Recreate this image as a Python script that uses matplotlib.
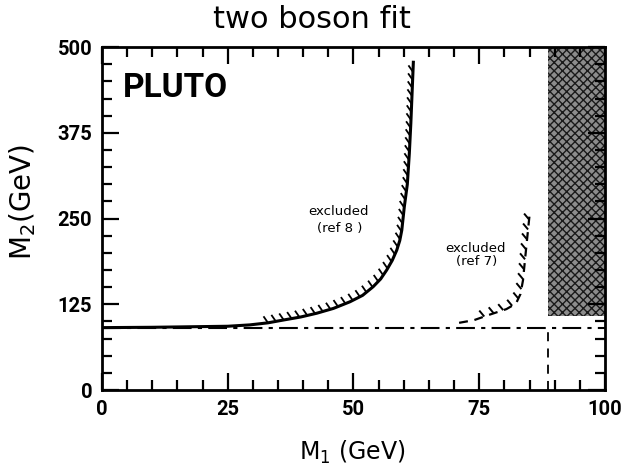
import numpy as np
import matplotlib
matplotlib.use("Agg")
import matplotlib.pyplot as plt

# Data
ref8_m1 = [0, 10, 20, 25, 29.4, 33, 36, 39.5, 42.7, 46, 49.3, 51.8, 53.9, 55.4, 56.6, 57.7,
           58.6, 59.2, 59.6, 60.1, 60.7, 61.1, 61.4, 61.9]
ref8_m2 = [91, 91.5, 92.5, 93, 95, 98, 102, 106.5, 112, 119, 128.7, 138, 150.6, 162, 175, 189,
           204, 218, 233, 267, 300, 345, 389, 478]
ref7_m1 = [71, 74, 77.1, 80.4, 82.3, 83.2, 83.7, 84.1, 84.5, 85.1]
ref7_m2 = [98, 102, 110, 118, 126, 140, 160, 190, 219, 262]
mz_line = 90
shade_x = [88.7, 100]
shade_y = [108, 500]
xticks = [0, 25, 50, 75, 100]
yticks = [0, 125, 250, 375, 500]

NARROW = ['Roboto', 'DejaVu Sans']

fig = plt.figure(figsize=(6.24, 4.69), dpi=100)
ax = fig.add_axes([0.1635, 0.1684, 0.806, 0.731])
ax.set_xlim(0, 100)
ax.set_ylim(0, 500)

# shaded excluded band
ax.fill_between(shade_x, shade_y[0], shade_y[1], facecolor='#8c8c8c',
                hatch='xxxx', edgecolor='#1a1a1a', linewidth=0)

# horizontal dash-dot line and vertical dashed line
ax.plot([0, 100], [mz_line, mz_line], color='black', lw=1.5, ls=(0, (9, 3, 2, 3)))
ax.plot([shade_x[0], shade_x[0]], [0, mz_line], color='black', lw=1.3, ls=(0, (5, 4)))

# curves
ax.plot(ref8_m1, ref8_m2, color='black', lw=2.2, solid_joinstyle='round')
ax.plot(ref7_m1, ref7_m2, color='black', lw=1.6, ls=(0, (4, 3)))

fig.canvas.draw()

def hatch(xs, ys, start_x, spacing=8.0, dx=-4.0, dy=6.0, lw=1.3):
    pts = ax.transData.transform(np.column_stack([xs, ys]))
    seg = np.hypot(np.diff(pts[:, 0]), np.diff(pts[:, 1]))
    s = np.concatenate([[0], np.cumsum(seg)])
    s0 = np.interp(start_x, xs, s)
    for si in np.arange(s0, s[-1] - 3, spacing):
        px = np.interp(si, s, pts[:, 0])
        py = np.interp(si, s, pts[:, 1])
        p = ax.transData.inverted().transform([[px, py], [px + dx, py + dy]])
        ax.plot(p[:, 0], p[:, 1], color='black', lw=lw, solid_capstyle='butt')

hatch(ref8_m1, ref8_m2, 33, spacing=8.0, dx=-4.5, dy=6.5)
hatch(ref7_m1, ref7_m2, 76, spacing=10.0, dx=-5, dy=6, lw=1.4)

# texts
ax.text(0.042, 0.854, 'PLUTO', transform=ax.transAxes, fontsize=24, fontweight='bold',
        family=NARROW, va='baseline', ha='left')
ax.text(47.0, 260.5, 'excluded', fontsize=9.5, ha='center', va='center')
ax.text(47.3, 235.7, '(ref 8 )', fontsize=9.5, ha='center', va='center')
ax.text(74.2, 206.5, 'excluded', fontsize=9.5, ha='center', va='center')
ax.text(74.5, 187, '(ref 7)', fontsize=9.5, ha='center', va='center')

fig.text(0.5, 1 - 28 / 469, 'two boson fit', fontsize=22, ha='center', va='baseline')
fig.text(352 / 624, 1 - 452 / 469, 'M$_1$ (GeV)', fontsize=17, ha='center', va='center')
fig.text(23 / 624, 1 - 202 / 469, 'M$_2$(GeV)', fontsize=20, ha='center', va='center',
         rotation=90)

ax.set_xticks(xticks)
ax.set_yticks(yticks)
ax.set_xticks(np.arange(0, 101, 5), minor=True)
ax.set_yticks(np.arange(0, 501, 25), minor=True)
ax.tick_params(which='both', direction='in', top=True, right=True, width=1.6)
ax.tick_params(which='major', length=12, labelsize=14.5, pad=7)
ax.tick_params(which='minor', length=7)
for lab in ax.get_xticklabels() + ax.get_yticklabels():
    lab.set_family(NARROW)
    lab.set_fontweight('bold')
for sp in ax.spines.values():
    sp.set_linewidth(2.0)

fig.savefig('out.png', dpi=100)
